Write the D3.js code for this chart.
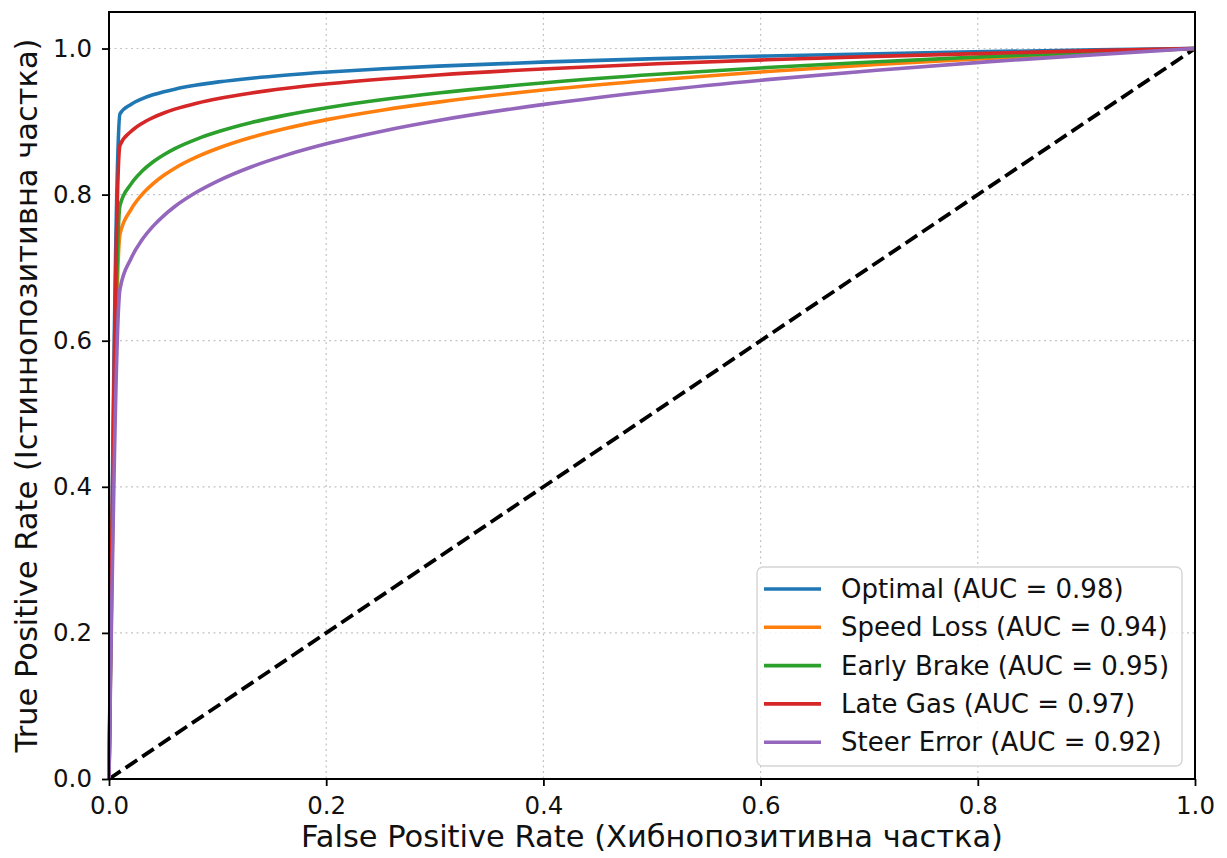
<!DOCTYPE html>
<html>
<head>
<meta charset="utf-8">
<script src="https://cdn.jsdelivr.net/npm/d3@7"></script>
<style>
  body { margin: 0; background: #fff; }
  svg { font-family: "DejaVu Sans", sans-serif; }
</style>
</head>
<body>
<svg id="drawing_region"></svg>
<script>
// FPR sample points shared by every curve
const fpr = [0, 0.0101, 0.0202, 0.0303, 0.0404, 0.0505, 0.0606, 0.0808, 0.101, 0.1313, 0.1616,
             0.202, 0.2525, 0.303, 0.404, 0.505, 0.606, 0.707, 0.808, 0.909, 1.0];

const tprOptimal    = [0, 0.9105, 0.9235, 0.9311, 0.9366, 0.9409, 0.9444, 0.9500, 0.9543, 0.9594, 0.9635,
                       0.9679, 0.9723, 0.9759, 0.9817, 0.9862, 0.9898, 0.9929, 0.9957, 0.9981, 1.0];
const tprSpeedLoss  = [0, 0.7458, 0.7795, 0.8000, 0.8148, 0.8265, 0.8362, 0.8516, 0.8638, 0.8785, 0.8901,
                       0.9030, 0.9159, 0.9266, 0.9438, 0.9573, 0.9685, 0.9781, 0.9865, 0.9939, 1.0];
const tprEarlyBrake = [0, 0.7852, 0.8144, 0.8319, 0.8446, 0.8545, 0.8629, 0.8760, 0.8863, 0.8987, 0.9085,
                       0.9193, 0.9301, 0.9391, 0.9534, 0.9647, 0.9740, 0.9819, 0.9889, 0.9950, 1.0];
const tprLateGas    = [0, 0.8675, 0.8863, 0.8975, 0.9055, 0.9118, 0.9170, 0.9251, 0.9315, 0.9391, 0.9452,
                       0.9517, 0.9583, 0.9638, 0.9724, 0.9791, 0.9846, 0.9893, 0.9934, 0.9971, 1.0];
const tprSteerError = [0, 0.6706, 0.7123, 0.7378, 0.7565, 0.7713, 0.7837, 0.8035, 0.8192, 0.8382, 0.8534,
                       0.8702, 0.8872, 0.9014, 0.9242, 0.9423, 0.9574, 0.9703, 0.9817, 0.9917, 1.0];

const seriesNames = ['Optimal', 'Speed Loss', 'Early Brake', 'Late Gas', 'Steer Error'];
const seriesAuc = [0.98, 0.94, 0.95, 0.97, 0.92];
const seriesTpr = [tprOptimal, tprSpeedLoss, tprEarlyBrake, tprLateGas, tprSteerError];
const seriesColors = ['#1f77b4', '#ff7f0e', '#2ca02c', '#d62728', '#9467bd'];

const tickValues = [0, 0.2, 0.4, 0.6, 0.8, 1.0];

const config = {
    width: 1227,
    height: 858,
    margin: {top: 12, right: 32, bottom: 79, left: 109},
    label: {
        xaxis: 'False Positive Rate (Хибнопозитивна частка)',
        yaxis: 'True Positive Rate (Істиннопозитивна частка)'
    }
};

const svg = d3.select('#drawing_region')
    .attr('width', config.width)
    .attr('height', config.height);

const inner_width = config.width - config.margin.left - config.margin.right;
const inner_height = config.height - config.margin.top - config.margin.bottom;

const chart = svg.append('g')
    .attr('transform', `translate(${config.margin.left}, ${config.margin.top})`);

const xscale = d3.scaleLinear().domain([0, 1]).range([0, inner_width]);
const yscale = d3.scaleLinear().domain([0, 1.05]).range([inner_height, 0]);

// grid
chart.append('g')
    .selectAll('line')
    .data(tickValues)
    .join('line')
    .attr('x1', d => xscale(d)).attr('x2', d => xscale(d))
    .attr('y1', 0).attr('y2', inner_height)
    .attr('stroke', '#c4c4c4').attr('stroke-width', 1.2)
    .attr('stroke-dasharray', '2,3.5');
chart.append('g')
    .selectAll('line')
    .data(tickValues)
    .join('line')
    .attr('x1', 0).attr('x2', inner_width)
    .attr('y1', d => yscale(d)).attr('y2', d => yscale(d))
    .attr('stroke', '#c4c4c4').attr('stroke-width', 1.2)
    .attr('stroke-dasharray', '2,3.5');

// diagonal
chart.append('line')
    .attr('x1', xscale(0)).attr('y1', yscale(0))
    .attr('x2', xscale(1)).attr('y2', yscale(1))
    .attr('stroke', '#000').attr('stroke-width', 3.8)
    .attr('stroke-dasharray', '14,6');

// curves
const line = d3.line()
    .x((d, i) => xscale(fpr[i]))
    .y(d => yscale(d))
    .curve(d3.curveMonotoneX);

chart.append('g')
    .selectAll('path')
    .data(seriesTpr)
    .join('path')
    .attr('d', d => line(d))
    .attr('fill', 'none')
    .attr('stroke', (d, i) => seriesColors[i])
    .attr('stroke-width', 3.6)
    .attr('stroke-linejoin', 'round');

// axes
const xaxis = d3.axisBottom(xscale).tickValues(tickValues).tickFormat(d3.format('.1f'))
    .tickSize(7).tickPadding(11).tickSizeOuter(0);
const yaxis = d3.axisLeft(yscale).tickValues(tickValues).tickFormat(d3.format('.1f'))
    .tickSize(7).tickPadding(10).tickSizeOuter(0);

const xg = chart.append('g').attr('transform', `translate(0, ${inner_height})`).call(xaxis);
const yg = chart.append('g').call(yaxis);
[xg, yg].forEach(g => {
    g.select('.domain').remove();
    g.selectAll('line').attr('stroke', '#000').attr('stroke-width', 1.8);
    g.selectAll('text').attr('font-size', 24.5).attr('fill', '#111')
        .attr('font-family', '"DejaVu Sans", sans-serif');
});

// frame
chart.append('rect')
    .attr('x', 0).attr('y', 0)
    .attr('width', inner_width).attr('height', inner_height)
    .attr('fill', 'none').attr('stroke', '#000').attr('stroke-width', 2);

// axis labels
svg.append('text')
    .attr('text-anchor', 'middle')
    .attr('transform', `translate(${config.margin.left + inner_width / 2}, 847)`)
    .attr('font-size', 30.5).attr('fill', '#111')
    .text(config.label.xaxis);

svg.append('text')
    .attr('text-anchor', 'middle')
    .attr('transform', `translate(37, ${config.margin.top + inner_height / 2}) rotate(-90)`)
    .attr('font-size', 30.5).attr('fill', '#111')
    .text(config.label.yaxis);

// legend
const legend = chart.append('g')
    .attr('transform', `translate(${inner_width - 438}, ${inner_height - 212})`);

legend.append('rect')
    .attr('width', 425).attr('height', 199)
    .attr('rx', 6)
    .attr('fill', '#fff').attr('fill-opacity', 0.85)
    .attr('stroke', '#d5d5d5').attr('stroke-width', 1.4);

const items = legend.selectAll('g')
    .data(seriesNames)
    .join('g')
    .attr('transform', (d, i) => `translate(0, ${22 + i * 38.3})`);

items.append('line')
    .attr('x1', 7).attr('x2', 64)
    .attr('stroke', (d, i) => seriesColors[i])
    .attr('stroke-width', 3.6);

items.append('text')
    .attr('x', 84).attr('y', 9)
    .attr('font-size', 26).attr('fill', '#111')
    .text((d, i) => `${d} (AUC = ${seriesAuc[i].toFixed(2)})`);
</script>
</body>
</html>
